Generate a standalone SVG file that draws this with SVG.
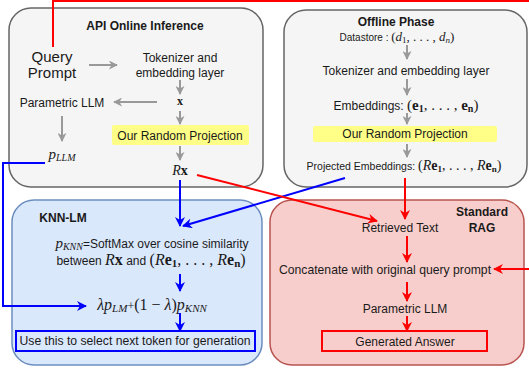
<svg xmlns="http://www.w3.org/2000/svg" width="529" height="371" viewBox="0 0 529 371">
<style>
.t{font-family:"Liberation Sans",Arial,sans-serif;fill:#1a1a1a;text-anchor:middle}
.b{font-weight:bold}
.m{font-family:"Liberation Serif","Times New Roman",serif;font-style:italic}
.mb{font-family:"Liberation Serif","Times New Roman",serif;font-weight:bold}
.mr{font-family:"Liberation Serif","Times New Roman",serif}
.g{stroke:#999;stroke-width:2;fill:none}
.bl{stroke:#0000ff;stroke-width:2;fill:none}
.rd{stroke:#ff0000;stroke-width:2;fill:none}
</style>
<defs>
<marker id="ag" viewBox="0 0 10 10" refX="9" refY="5" markerWidth="4.5" markerHeight="4.5" orient="auto" markerUnits="strokeWidth"><path d="M0,0 L10,5 L0,10 L3,5 Z" fill="#999"/></marker>
<marker id="ab" viewBox="0 0 10 10" refX="9" refY="5" markerWidth="5" markerHeight="5" orient="auto" markerUnits="strokeWidth"><path d="M0,0 L10,5 L0,10 L3,5 Z" fill="#0000ff"/></marker>
<marker id="ar" viewBox="0 0 10 10" refX="9" refY="5" markerWidth="5" markerHeight="5" orient="auto" markerUnits="strokeWidth"><path d="M0,0 L10,5 L0,10 L3,5 Z" fill="#ff0000"/></marker>
</defs>
<rect width="529" height="371" fill="#fff"/>

<g id="api">
<rect x="9" y="8" width="254" height="179" rx="22" fill="#f5f5f5" stroke="#666" stroke-width="1.5"/>
<text class="t b" x="145" y="30" font-size="12">API Online Inference</text>
<text class="t" x="52" y="62" font-size="15">Query</text>
<text class="t" x="52" y="78" font-size="15">Prompt</text>
<text class="t" x="180" y="62" font-size="12">Tokenizer and</text>
<text class="t" x="180" y="77" font-size="12">embedding layer</text>
<text class="t mb" x="180" y="105" font-size="12">x</text>
<text class="t" x="62" y="107" font-size="12">Parametric LLM</text>
<text class="t" x="62" y="159" font-size="15"><tspan class="m">p</tspan><tspan class="m" font-size="10" dy="2">LLM</tspan></text>
<rect x="112" y="125" width="137" height="20" rx="2" fill="#ffff88"/>
<text class="t" x="180" y="140" font-size="12">Our Random Projection</text>
<text class="t" x="180" y="175" font-size="14"><tspan class="m">R</tspan><tspan class="mb">x</tspan></text>
</g>

<g id="offline">
<rect x="284" y="10" width="243" height="177" rx="22" fill="#f5f5f5" stroke="#666" stroke-width="1.5"/>
<text class="t b" x="396" y="26" font-size="12">Offline Phase</text>
<text class="t" x="397" y="41" font-size="10">Datastore : <tspan class="mr" font-size="13">(</tspan><tspan class="m" font-size="13">d</tspan><tspan class="mr" font-size="9" dy="2">1</tspan><tspan class="mr" font-size="13" dy="-2">, . . . , </tspan><tspan class="m" font-size="13">d</tspan><tspan class="m" font-size="9" dy="2">n</tspan><tspan class="mr" font-size="13" dy="-2">)</tspan></text>
<text class="t" x="406" y="75" font-size="12">Tokenizer and embedding layer</text>
<text class="t" x="406" y="110" font-size="12">Embeddings: <tspan class="mr" font-size="15">(</tspan><tspan class="mb" font-size="15">e</tspan><tspan class="mb" font-size="10" dy="2">1</tspan><tspan class="mr" font-size="15" dy="-2">, . . . , </tspan><tspan class="mb" font-size="15">e</tspan><tspan class="mb" font-size="10" dy="2">n</tspan><tspan class="mr" font-size="15" dy="-2">)</tspan></text>
<rect x="313" y="126" width="184" height="16" rx="2" fill="#ffff88"/>
<text class="t" x="405" y="138" font-size="12">Our Random Projection</text>
<text class="t" x="404" y="170" font-size="10.5">Projected Embeddings: <tspan class="mr" font-size="14">(</tspan><tspan class="m" font-size="14">R</tspan><tspan class="mb" font-size="14">e</tspan><tspan class="mb" font-size="9" dy="2">1</tspan><tspan class="mr" font-size="14" dy="-2">, . . . , </tspan><tspan class="m" font-size="14">R</tspan><tspan class="mb" font-size="14">e</tspan><tspan class="mb" font-size="9" dy="2">n</tspan><tspan class="mr" font-size="14" dy="-2">)</tspan></text>
</g>

<g id="knn">
<rect x="12" y="200" width="250" height="165" rx="22" fill="#dae8fc" stroke="#6c8ebf" stroke-width="1.5"/>
<text class="t b" x="63" y="222" font-size="12">KNN-LM</text>
<text class="t" x="152" y="248" font-size="12"><tspan class="m" font-size="15">p</tspan><tspan class="m" font-size="10" dy="2">KNN</tspan><tspan dy="-2">=SoftMax over cosine similarity</tspan></text>
<text class="t" x="151" y="265" font-size="12">between <tspan class="m" font-size="16">R</tspan><tspan class="mb" font-size="16">x</tspan> and <tspan class="mr" font-size="16">(</tspan><tspan class="m" font-size="16">R</tspan><tspan class="mb" font-size="16">e</tspan><tspan class="mb" font-size="11" dy="2">1</tspan><tspan class="mr" font-size="16" dy="-2">, . . . , </tspan><tspan class="m" font-size="16">R</tspan><tspan class="mb" font-size="16">e</tspan><tspan class="mb" font-size="11" dy="2">n</tspan><tspan class="mr" font-size="16" dy="-2">)</tspan></text>
<text class="t" x="152" y="310" font-size="16"><tspan class="m">λp</tspan><tspan class="m" font-size="11" dy="2">LM</tspan><tspan class="mr" font-size="12" dy="-2">+</tspan><tspan class="mr">(1 − </tspan><tspan class="m">λ</tspan><tspan class="mr">)</tspan><tspan class="m">p</tspan><tspan class="m" font-size="11" dy="2">KNN</tspan></text>
<rect x="16" y="331" width="239" height="20" fill="none" stroke="#0000ff" stroke-width="2"/>
<text class="t" x="135" y="345" font-size="12.2">Use this to select next token for generation</text>
</g>

<g id="rag">
<rect x="270" y="200" width="254" height="165" rx="22" fill="#f8cecc" stroke="#b85450" stroke-width="1.5"/>
<text class="t b" x="482" y="216" font-size="12">Standard</text>
<text class="t b" x="482" y="232" font-size="12">RAG</text>
<text class="t" x="400" y="232" font-size="12">Retrieved Text</text>
<text class="t" x="385" y="274" font-size="12.2">Concatenate with original query prompt</text>
<text class="t" x="405" y="313" font-size="12">Parametric LLM</text>
<rect x="322" y="331" width="165" height="20" fill="none" stroke="#ff0000" stroke-width="2"/>
<text class="t" x="405" y="346" font-size="12">Generated Answer</text>
</g>

<g id="connectors">
<line class="g" x1="89" y1="65" x2="117" y2="65" marker-end="url(#ag)"/>
<line class="g" x1="180" y1="80" x2="180" y2="94" marker-end="url(#ag)"/>
<line class="g" x1="157" y1="102" x2="114" y2="102" marker-end="url(#ag)"/>
<line class="g" x1="62" y1="116" x2="62" y2="141" marker-end="url(#ag)"/>
<line class="g" x1="180" y1="111" x2="180" y2="124" marker-end="url(#ag)"/>
<line class="g" x1="180" y1="146" x2="180" y2="160" marker-end="url(#ag)"/>
<line class="g" x1="407" y1="45" x2="407" y2="59" marker-end="url(#ag)"/>
<line class="g" x1="407" y1="79" x2="407" y2="95" marker-end="url(#ag)"/>
<line class="g" x1="407" y1="113" x2="407" y2="124" marker-end="url(#ag)"/>
<line class="g" x1="407" y1="144" x2="407" y2="157" marker-end="url(#ag)"/>

<line class="bl" x1="180" y1="180" x2="180" y2="226" marker-end="url(#ab)"/>
<line class="bl" x1="345" y1="178" x2="183" y2="226" marker-end="url(#ab)"/>
<line class="bl" x1="180" y1="274" x2="180" y2="291" marker-end="url(#ab)"/>
<line class="bl" x1="180" y1="313" x2="180" y2="331" marker-end="url(#ab)"/>
<polyline class="bl" points="45,163 3,163 3,306 86,306" marker-end="url(#ab)"/>

<polyline class="rd" points="53,47 53,1 531,1 531,269 494,269" marker-end="url(#ar)"/>
<line class="rd" x1="197" y1="175" x2="377" y2="221" marker-end="url(#ar)"/>
<line class="rd" x1="405" y1="178" x2="405" y2="219" marker-end="url(#ar)"/>
<line class="rd" x1="407" y1="236" x2="407" y2="262" marker-end="url(#ar)"/>
<line class="rd" x1="407" y1="282" x2="407" y2="301" marker-end="url(#ar)"/>
<line class="rd" x1="407" y1="316" x2="407" y2="331" marker-end="url(#ar)"/>
</g>
</svg>
